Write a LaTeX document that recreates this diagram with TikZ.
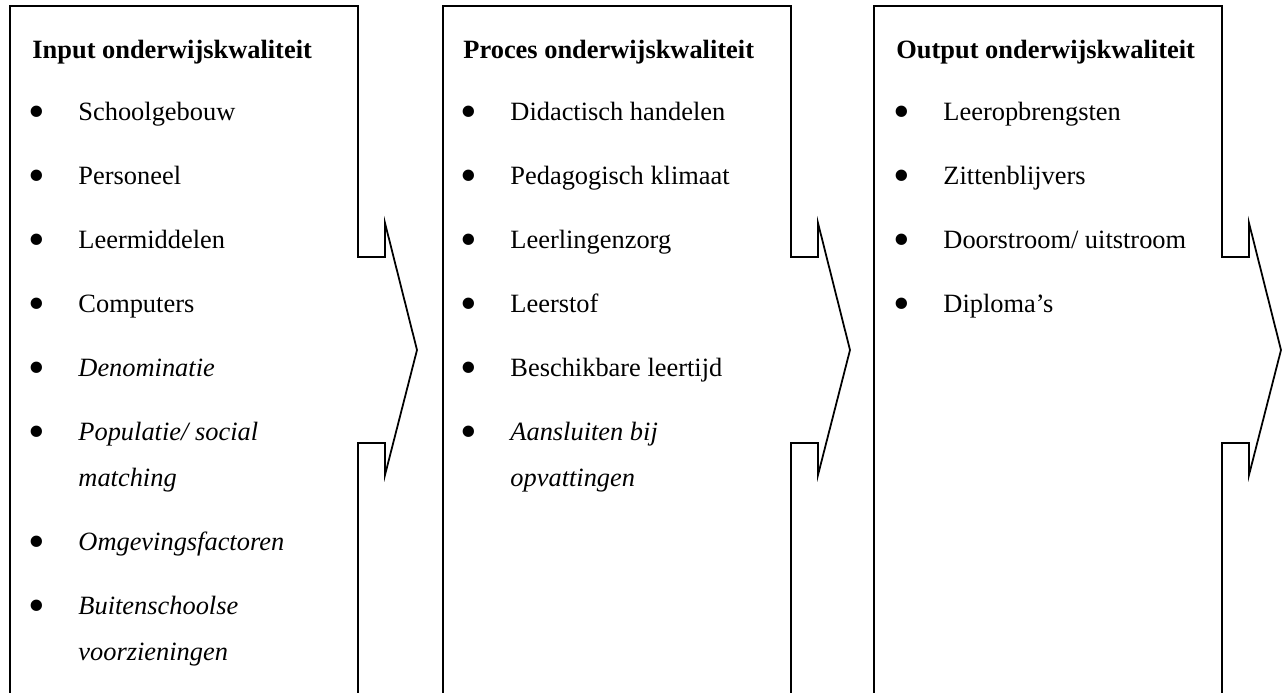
\documentclass[tikz,border=0pt]{standalone}
\usepackage{fontspec}
\setmainfont{Liberation Serif}
\usetikzlibrary{positioning}
\tikzset{kader/.style={draw=black,line width=0.8pt,line join=miter}}
\tikzset{kop/.style={anchor=base west,inner sep=0pt,font=\fontsize{12}{14}\selectfont\bfseries}}
\tikzset{regel/.style={anchor=base west,inner sep=0pt,font=\fontsize{12}{14}\selectfont}}
\tikzset{punt/.style={regel,execute at begin node={\llap{\raisebox{-3.4pt}{\fontsize{21.6}{22}\selectfont\upshape\textbullet}\hspace{15.1pt}}}}}
\begin{document}
\begin{tikzpicture}[x=0.4545pt,y=-0.4545pt]
\useasboundingbox (0,0) rectangle (1285,692);
\clip (0,0) rectangle (1285,692);
% kaders met pijl
\draw [kader] (10,700) -- (10,6) -- (358,6) -- (358,257) -- (385,257) -- (385,223) -- (417,350) -- (385,475) -- (385,443) -- (358,443) -- (358,700);
\draw [kader] (443,700) -- (443,6) -- (791,6) -- (791,257) -- (818,257) -- (818,223) -- (850,350) -- (818,475) -- (818,443) -- (791,443) -- (791,700);
\draw [kader] (874,700) -- (874,6) -- (1222,6) -- (1222,257) -- (1249,257) -- (1249,223) -- (1281,350) -- (1249,475) -- (1249,443) -- (1222,443) -- (1222,700);
\begin{scope}[node distance=29.1pt]
	% input
	\node (input) [kop] at (32,58) {Input onderwijskwaliteit};
	\node (gebouw) [punt] at (78,120) {Schoolgebouw};
	\node (personeel) [below=of gebouw.base west, punt] {Personeel};
	\node (middelen) [below=of personeel.base west, punt] {Leermiddelen};
	\node (computers) [below=of middelen.base west, punt] {Computers};
	\node (denominatie) [below=of computers.base west, punt] {\itshape Denominatie};
	\node (populatie) [below=of denominatie.base west, punt] {\itshape Populatie/ social};
	\node (matching) [below=20.9pt of populatie.base west, regel] {\itshape matching};
	\node (omgeving) [below=of matching.base west, punt] {\itshape Omgevingsfactoren};
	\node (buiten) [below=of omgeving.base west, punt] {\itshape Buitenschoolse};
	\node (voorzieningen) [below=20.9pt of buiten.base west, regel] {\itshape voorzieningen};
	% proces
	\node (proces) [kop] at (463,58) {Proces onderwijskwaliteit};
	\node (didactisch) [punt] at (510,120) {Didactisch handelen};
	\node (klimaat) [below=of didactisch.base west, punt] {Pedagogisch klimaat};
	\node (zorg) [below=of klimaat.base west, punt] {Leerlingenzorg};
	\node (leerstof) [below=of zorg.base west, punt] {Leerstof};
	\node (leertijd) [below=of leerstof.base west, punt] {Beschikbare leertijd};
	\node (aansluiten) [below=of leertijd.base west, punt] {\itshape Aansluiten bij};
	\node (opvattingen) [below=20.9pt of aansluiten.base west, regel] {\itshape opvattingen};
	% output
	\node (output) [kop] at (896,58) {Output onderwijskwaliteit};
	\node (opbrengsten) [punt] at (943,120) {Leeropbrengsten};
	\node (blijvers) [below=of opbrengsten.base west, punt] {Zittenblijvers};
	\node (doorstroom) [below=of blijvers.base west, punt] {Doorstroom/ uitstroom};
	\node (diplomas) [below=of doorstroom.base west, punt] {Diploma’s};
\end{scope}
\end{tikzpicture}
\end{document}
